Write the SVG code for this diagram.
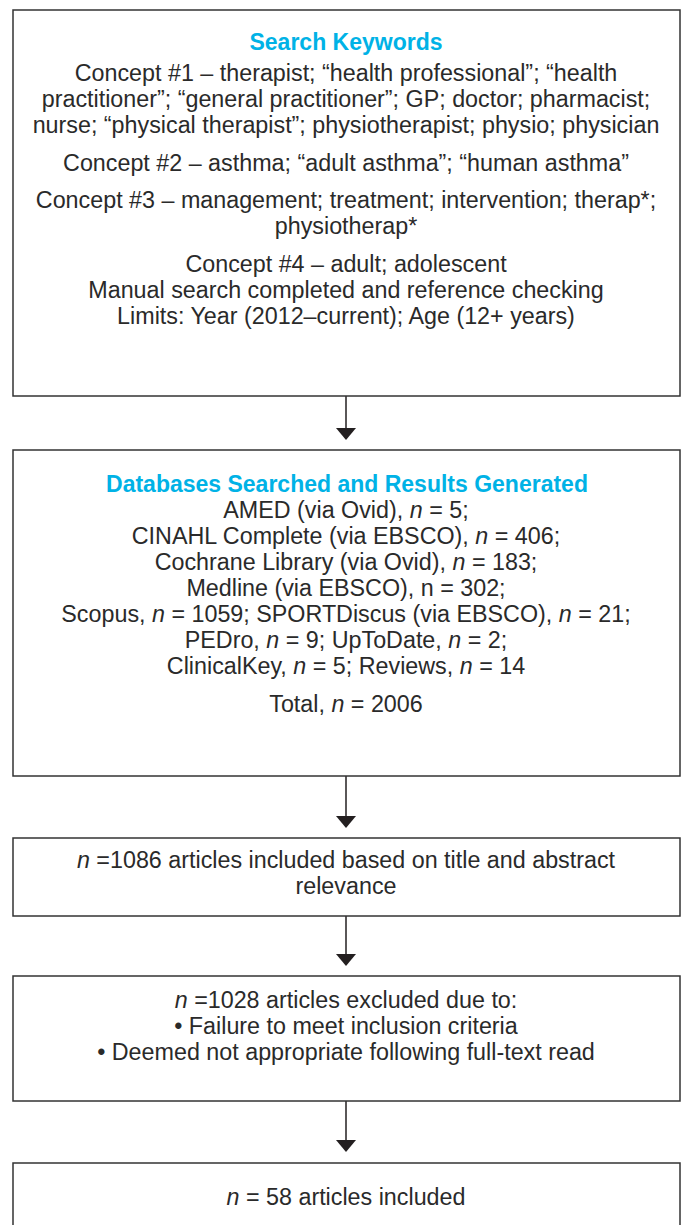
<svg xmlns="http://www.w3.org/2000/svg" width="683" height="1225" viewBox="0 0 683 1225">
<defs>
<style>
.box{fill:#fff;stroke:#333;stroke-width:1.5}
.t{font-family:"Liberation Sans",Arial,sans-serif;font-size:23.3px;fill:#2a2a2a;text-anchor:middle}
.h{font-family:"Liberation Sans",Arial,sans-serif;font-size:23px;font-weight:bold;fill:#00b2e6;text-anchor:middle}
.c{stroke:#231f20;stroke-width:1.5;fill:none}
.a{fill:#231f20}
.i{font-style:italic}
</style>
</defs>
<rect width="683" height="1225" fill="#fff"/>
<g id="connectors">
<line class="c" x1="346" y1="396" x2="346" y2="428"/><path class="a" d="M336,428 L356,428 L346,440 Z"/>
<line class="c" x1="346" y1="776" x2="346" y2="816"/><path class="a" d="M336,816 L356,816 L346,828 Z"/>
<line class="c" x1="346" y1="916" x2="346" y2="954"/><path class="a" d="M336,954 L356,954 L346,966 Z"/>
<line class="c" x1="346" y1="1101" x2="346" y2="1140"/><path class="a" d="M336,1140 L356,1140 L346,1152 Z"/>
</g>
<g id="search-keywords">
<rect class="box" x="13" y="10" width="667" height="386"/>
<text class="h" x="346" y="50">Search Keywords</text>
<text class="t" x="346" y="81">Concept #1 – therapist; “health professional”; “health</text>
<text class="t" x="346" y="107">practitioner”; “general practitioner”; GP; doctor; pharmacist;</text>
<text class="t" x="346" y="133">nurse; “physical therapist”; physiotherapist; physio; physician</text>
<text class="t" x="346" y="171">Concept #2 – asthma; “adult asthma”; “human asthma”</text>
<text class="t" x="346" y="208">Concept #3 – management; treatment; intervention; therap*;</text>
<text class="t" x="346" y="234">physiotherap*</text>
<text class="t" x="346" y="272">Concept #4 – adult; adolescent</text>
<text class="t" x="346" y="298">Manual search completed and reference checking</text>
<text class="t" x="346" y="324">Limits: Year (2012–current); Age (12+ years)</text>
</g>
<g id="databases">
<rect class="box" x="13" y="450" width="667" height="326"/>
<text class="h" x="347" y="492">Databases Searched and Results Generated</text>
<text class="t" x="346" y="518">AMED (via Ovid), <tspan class="i">n</tspan> = 5;</text>
<text class="t" x="346" y="544">CINAHL Complete (via EBSCO), <tspan class="i">n</tspan> = 406;</text>
<text class="t" x="346" y="570">Cochrane Library (via Ovid), <tspan class="i">n</tspan> = 183;</text>
<text class="t" x="346" y="596">Medline (via EBSCO), n = 302;</text>
<text class="t" x="346" y="622">Scopus, <tspan class="i">n</tspan> = 1059; SPORTDiscus (via EBSCO), <tspan class="i">n</tspan> = 21;</text>
<text class="t" x="346" y="648">PEDro, <tspan class="i">n</tspan> = 9; UpToDate, <tspan class="i">n</tspan> = 2;</text>
<text class="t" x="346" y="674">ClinicalKey, <tspan class="i">n</tspan> = 5; Reviews, <tspan class="i">n</tspan> = 14</text>
<text class="t" x="346" y="712">Total, <tspan class="i">n</tspan> = 2006</text>
</g>
<g id="screened">
<rect class="box" x="13" y="838" width="667" height="78"/>
<text class="t" x="346" y="868"><tspan class="i">n</tspan> =1086 articles included based on title and abstract</text>
<text class="t" x="346" y="894">relevance</text>
</g>
<g id="excluded">
<rect class="box" x="13" y="976" width="667" height="125"/>
<text class="t" x="346" y="1008"><tspan class="i">n</tspan> =1028 articles excluded due to:</text>
<text class="t" x="346" y="1034">• Failure to meet inclusion criteria</text>
<text class="t" x="346" y="1060">• Deemed not appropriate following full-text read</text>
</g>
<g id="included">
<rect class="box" x="13" y="1163" width="667" height="80"/>
<text class="t" x="346" y="1205"><tspan class="i">n</tspan> = 58 articles included</text>
</g>
</svg>
